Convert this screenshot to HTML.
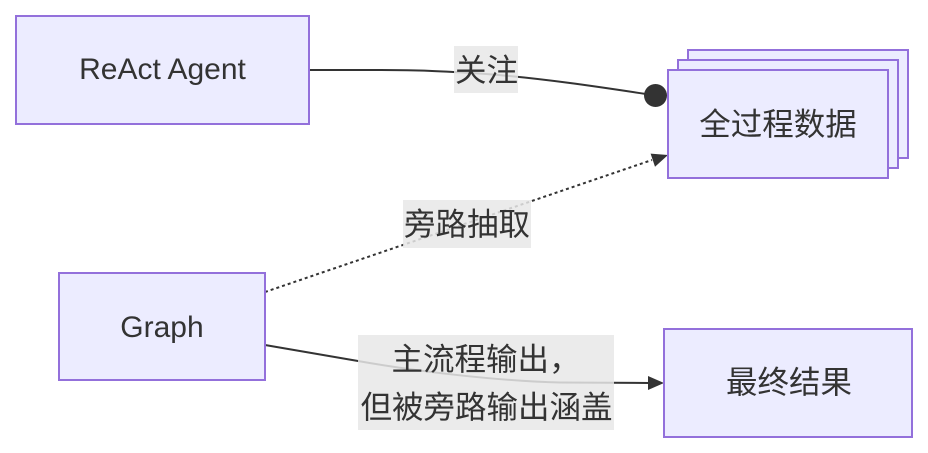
<!DOCTYPE html>
<html>
<head>
<meta charset="utf-8">
<style>
  html,body{margin:0;padding:0;background:#ffffff;}
  svg{display:block;}
  text{font-family:"Liberation Sans","Noto Sans CJK SC",sans-serif;font-size:30px;fill:#333333;}
  text.cjk{font-size:31.5px;}
</style>
</head>
<body>
<svg width="928" height="453" viewBox="0 0 928 453" xmlns="http://www.w3.org/2000/svg">
  <!-- Edges -->
  <path d="M309,70 L370,70 C420,70 440,71 486,74 C540,78 600,87 646,94" fill="none" stroke="#333" stroke-width="2"/>
  <circle cx="655.5" cy="95.5" r="11.5" fill="#333"/>

  <path d="M265,292 L652,160" fill="none" stroke="#333" stroke-width="2" stroke-dasharray="3,3"/>
  <polygon points="668,155 655,166.8 650.6,153.6" fill="#333"/>

  <path d="M265,345 L358,361 C420,372 500,381 560,382.5 L650,383" fill="none" stroke="#333" stroke-width="2"/>
  <polygon points="664,383 648,376 648,390" fill="#333"/>

  <!-- Nodes -->
  <rect x="16" y="16" width="293" height="108" fill="#ECECFF" stroke="#9370DB" stroke-width="2"/>
  <text x="162.5" y="79" text-anchor="middle">ReAct Agent</text>

  <rect x="59" y="273" width="206" height="107" fill="#ECECFF" stroke="#9370DB" stroke-width="2"/>
  <text x="162" y="337" text-anchor="middle">Graph</text>

  <rect x="688" y="50" width="220" height="108" fill="#ECECFF" stroke="#9370DB" stroke-width="2"/>
  <rect x="678" y="60" width="220" height="108" fill="#ECECFF" stroke="#9370DB" stroke-width="2"/>
  <rect x="668" y="70" width="220" height="108" fill="#ECECFF" stroke="#9370DB" stroke-width="2"/>
  <text class="cjk" x="778" y="135" text-anchor="middle">全过程数据</text>

  <rect x="664" y="329" width="248" height="108" fill="#ECECFF" stroke="#9370DB" stroke-width="2"/>
  <text class="cjk" x="789" y="393" text-anchor="middle">最终结果</text>

  <!-- Edge labels -->
  <rect x="454" y="46" width="64" height="47" fill="rgba(232,232,232,0.85)"/>
  <text class="cjk" x="486.5" y="81" text-anchor="middle">关注</text>

  <rect x="403" y="200" width="128" height="48" fill="rgba(232,232,232,0.85)"/>
  <text class="cjk" x="467" y="235" text-anchor="middle">旁路抽取</text>

  <rect x="358" y="335" width="256" height="95" fill="rgba(232,232,232,0.85)"/>
  <text class="cjk" x="486" y="370" text-anchor="middle">主流程输出，</text>
  <text class="cjk" x="486.5" y="418" text-anchor="middle">但被旁路输出涵盖</text>
</svg>
</body>
</html>
